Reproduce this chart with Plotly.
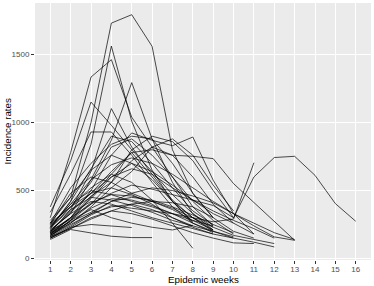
import plotly.graph_objects as go

# Incidence rates per epidemic week (each list starts at week 1)
series = [
    [260, 450, 1000, 1732, 1794, 1561, 800, 480, 300],
    [230, 420, 840, 1563, 1010, 650, 420, 260],
    [300, 780, 1335, 1463, 1040, 820, 600, 380, 240],
    [210, 330, 580, 870, 1294, 880, 560, 330, 210],
    [380, 720, 1151, 980, 800, 640, 470, 330, 230],
    [340, 620, 931, 931, 760, 560, 380, 260, 190],
    [190, 360, 640, 1103, 820, 620, 430, 300, 200],
    [180, 300, 500, 760, 924, 870, 830, 894, 576, 330, 180],
    [200, 340, 480, 640, 780, 800, 760, 752, 735, 551, 410, 270, 134],
    [170, 280, 400, 480, 540, 510, 470, 430, 390, 300, 600, 743, 752, 612, 404, 274],
    [150, 230, 320, 390, 370, 350, 330, 300, 270, 290, 705],
    [160, 220, 300, 350, 330, 290, 240, 190, 150, 115, 110],
    [200, 290, 410, 470, 460, 420, 370, 300, 230, 170, 140, 110],
    [180, 260, 370, 440, 430, 390, 330, 260, 200, 150, 120, 85],
    [230, 400, 580, 690, 740, 700, 620, 520, 420, 330, 240, 159, 134],
    [140, 213, 188, 164, 154, 154],
    [150, 230, 250, 240, 228],
    [250, 380, 520, 620, 560, 430, 260, 75],
    [220, 380, 560, 820, 880, 760, 600, 420, 280, 180],
    [260, 520, 700, 840, 900, 880, 700, 480, 300],
    [190, 300, 460, 560, 800, 900, 860, 720, 500, 300],
    [170, 260, 380, 520, 640, 820, 880, 760, 540, 350],
    [240, 400, 500, 470, 420, 380, 330, 280, 240],
    [200, 350, 480, 520, 470, 400, 300, 230, 180],
    [160, 240, 330, 420, 450, 430, 380, 320, 250, 190],
    [280, 450, 650, 760, 700, 580, 420, 300, 210],
    [150, 220, 290, 350, 400, 420, 410, 380, 300, 200, 150],
    [210, 330, 420, 400, 350, 300, 260, 220, 180, 150],
    [180, 280, 360, 300, 260, 230, 210, 245],
    [250, 480, 600, 560, 480, 420, 360, 280, 210],
    [200, 300, 400, 560, 720, 820, 760, 600, 400, 260, 180],
    [170, 250, 330, 380, 400, 360, 300, 240, 200, 160],
    [230, 360, 450, 430, 390, 340, 280, 240],
    [190, 270, 340, 420, 480, 520, 500, 460, 410, 330, 260, 190, 140],
    [220, 420, 660, 900, 860, 700, 520, 350, 250],
    [260, 380, 480, 600, 700, 640, 540, 430, 330, 260],
    [180, 300, 440, 600, 660, 620, 520, 430, 350, 280, 220, 150],
    [160, 280, 450, 620, 780, 600, 420, 270],
]

x_ticks = list(range(1, 17))
y_ticks = [0, 500, 1000, 1500]
x_title = "Epidemic weeks"
y_title = "Incidence rates"

fig = go.Figure()
for s in series:
    fig.add_trace(go.Scatter(
        x=list(range(1, len(s) + 1)), y=s, mode="lines",
        line=dict(color="rgba(0,0,0,0.78)", width=0.9),
        showlegend=False, hoverinfo="skip"))

font_family = "Liberation Sans, Arial, Helvetica, sans-serif"
axis_common = dict(
    showgrid=True, gridcolor="white", gridwidth=1.1,
    zeroline=False, showline=False,
    ticks="outside", ticklen=3, tickwidth=1, tickcolor="#333333",
    tickfont=dict(family=font_family, size=8, color="#4D4D4D"),
)

fig.update_layout(
    width=374, height=286,
    margin=dict(l=35, r=3, t=3, b=26),
    paper_bgcolor="white", plot_bgcolor="#EBEBEB",
    xaxis=dict(range=[0.25, 16.75], tickmode="array", tickvals=x_ticks,
               ticktext=[str(v) for v in x_ticks], ticklabelstandoff=-2,
               **axis_common),
    yaxis=dict(range=[-11, 1880], tickmode="array", tickvals=y_ticks,
               ticktext=[str(v) for v in y_ticks], **axis_common),
    annotations=[
        dict(text=x_title, xref="paper", yref="paper", x=0.5, y=0,
             yanchor="middle", yshift=-19, showarrow=False,
             font=dict(family=font_family, size=9.8, color="black")),
        dict(text=y_title, xref="paper", yref="paper", x=0, y=0.5,
             xanchor="center", xshift=-28, textangle=-90, showarrow=False,
             font=dict(family=font_family, size=9.8, color="black")),
    ],
)

fig.write_html("out.html",
               config={"displayModeBar": False},
               post_script="document.body.style.margin='0';"
                           "document.body.style.overflow='hidden';")
